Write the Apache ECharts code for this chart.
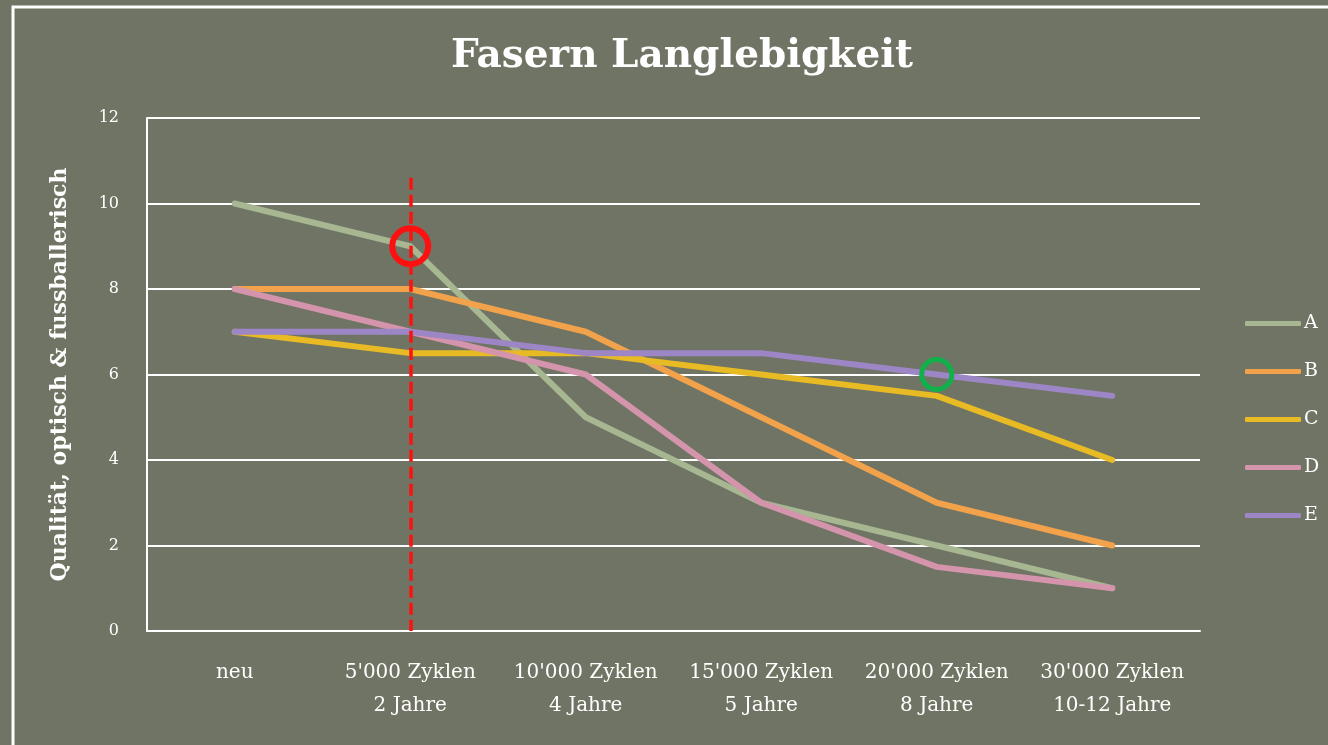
<!DOCTYPE html>
<html>
<head>
<meta charset="utf-8">
<script src="https://cdn.jsdelivr.net/npm/echarts@6/dist/echarts.min.js"></script>
<style>
  html, body { margin: 0; padding: 0; background: #707464; }
  #main { width: 1328px; height: 745px; }
</style>
</head>
<body>
<div id="main"></div>
<script>
// data
const categories = ['neu', "5'000 Zyklen\n2 Jahre", "10'000 Zyklen\n4 Jahre", "15'000 Zyklen\n5 Jahre", "20'000 Zyklen\n8 Jahre", "30'000 Zyklen\n10-12 Jahre"];
const seriesA = [10, 9, 5, 3, 2, 1];
const seriesB = [8, 8, 7, 5, 3, 2];
const seriesC = [7, 6.5, 6.5, 6, 5.5, 4];
const seriesD = [8, 7, 6, 3, 1.5, 1];
const seriesE = [7, 7, 6.5, 6.5, 6, 5.5];
const seriesNames = ['A', 'B', 'C', 'D', 'E'];
const colors = ['#a6b792', '#f2a24a', '#e8bb24', '#d494ac', '#9d86c6'];

const font = '"DejaVu Serif", "Liberation Serif", serif';

const chart = echarts.init(document.getElementById('main'));

function line(name, data, color, extra) {
  return Object.assign({
    name: name,
    type: 'line',
    data: data,
    showSymbol: false,
    lineStyle: { color: color, width: 6, cap: 'round', join: 'round' },
    itemStyle: { color: color },
    emphasis: { disabled: true }
  }, extra || {});
}

const option = {
  backgroundColor: '#707464',
  animation: false,
  color: colors,
  title: {
    text: 'Fasern Langlebigkeit',
    left: 446,
    top: 32,
    textStyle: { color: '#ffffff', fontFamily: font, fontSize: 39, fontWeight: 'bold' }
  },
  graphic: [{
    type: 'rect',
    shape: { x: 13, y: 7, width: 1400, height: 800 },
    style: { fill: 'none', stroke: '#ffffff', lineWidth: 3 },
    silent: true
  }],
  legend: {
    orient: 'vertical',
    left: 1240,
    top: 309,
    itemWidth: 56,
    itemHeight: 5,
    itemGap: 29,
    icon: 'roundRect',
    data: seriesNames,
    textStyle: { color: '#ffffff', fontFamily: font, fontSize: 19, padding: [0, 0, 0, -2] }
  },
  grid: { left: 147, right: 128, top: 118, bottom: 114 },
  xAxis: {
    type: 'category',
    data: categories,
    boundaryGap: true,
    axisLine: { show: true, lineStyle: { color: '#ffffff', width: 2 } },
    axisTick: { show: false },
    axisLabel: { interval: 0, hideOverlap: false, color: '#ffffff', fontFamily: font, fontSize: 20, lineHeight: 33, margin: 25 }
  },
  yAxis: {
    type: 'value',
    min: 0,
    max: 12,
    interval: 2,
    name: 'Qualität, optisch & fussballerisch',
    nameLocation: 'middle',
    nameGap: 76,
    nameTextStyle: { color: '#ffffff', fontFamily: font, fontSize: 22, fontWeight: 'bold' },
    axisLine: { show: true, lineStyle: { color: '#ffffff', width: 2 } },
    axisTick: { show: false },
    axisLabel: { color: '#ffffff', fontFamily: font, fontSize: 16, margin: 28, padding: [6, 0, 0, 0] },
    splitLine: { lineStyle: { color: '#ffffff', width: 2 } }
  },
  series: [
    line('A', seriesA, colors[0], {
      markLine: {
        silent: true,
        symbol: 'none',
        label: { show: false },
        lineStyle: { color: '#ff1010', type: [12, 5], width: 3.5 },
        data: [[{ coord: [1, 10.6] }, { coord: [1, 0] }]]
      },
      markPoint: {
        silent: true,
        symbol: 'circle',
        symbolSize: 36,
        label: { show: false },
        itemStyle: { color: 'rgba(0,0,0,0)', borderColor: '#ff1010', borderWidth: 6 },
        data: [{ coord: [1, 9] }]
      }
    }),
    line('B', seriesB, colors[1]),
    line('C', seriesC, colors[2]),
    line('D', seriesD, colors[3]),
    line('E', seriesE, colors[4], {
      markPoint: {
        silent: true,
        symbol: 'circle',
        symbolSize: 30,
        label: { show: false },
        itemStyle: { color: 'rgba(0,0,0,0)', borderColor: '#10b04a', borderWidth: 5 },
        data: [{ coord: [4, 6] }]
      }
    })
  ]
};

chart.setOption(option);
</script>
</body>
</html>
